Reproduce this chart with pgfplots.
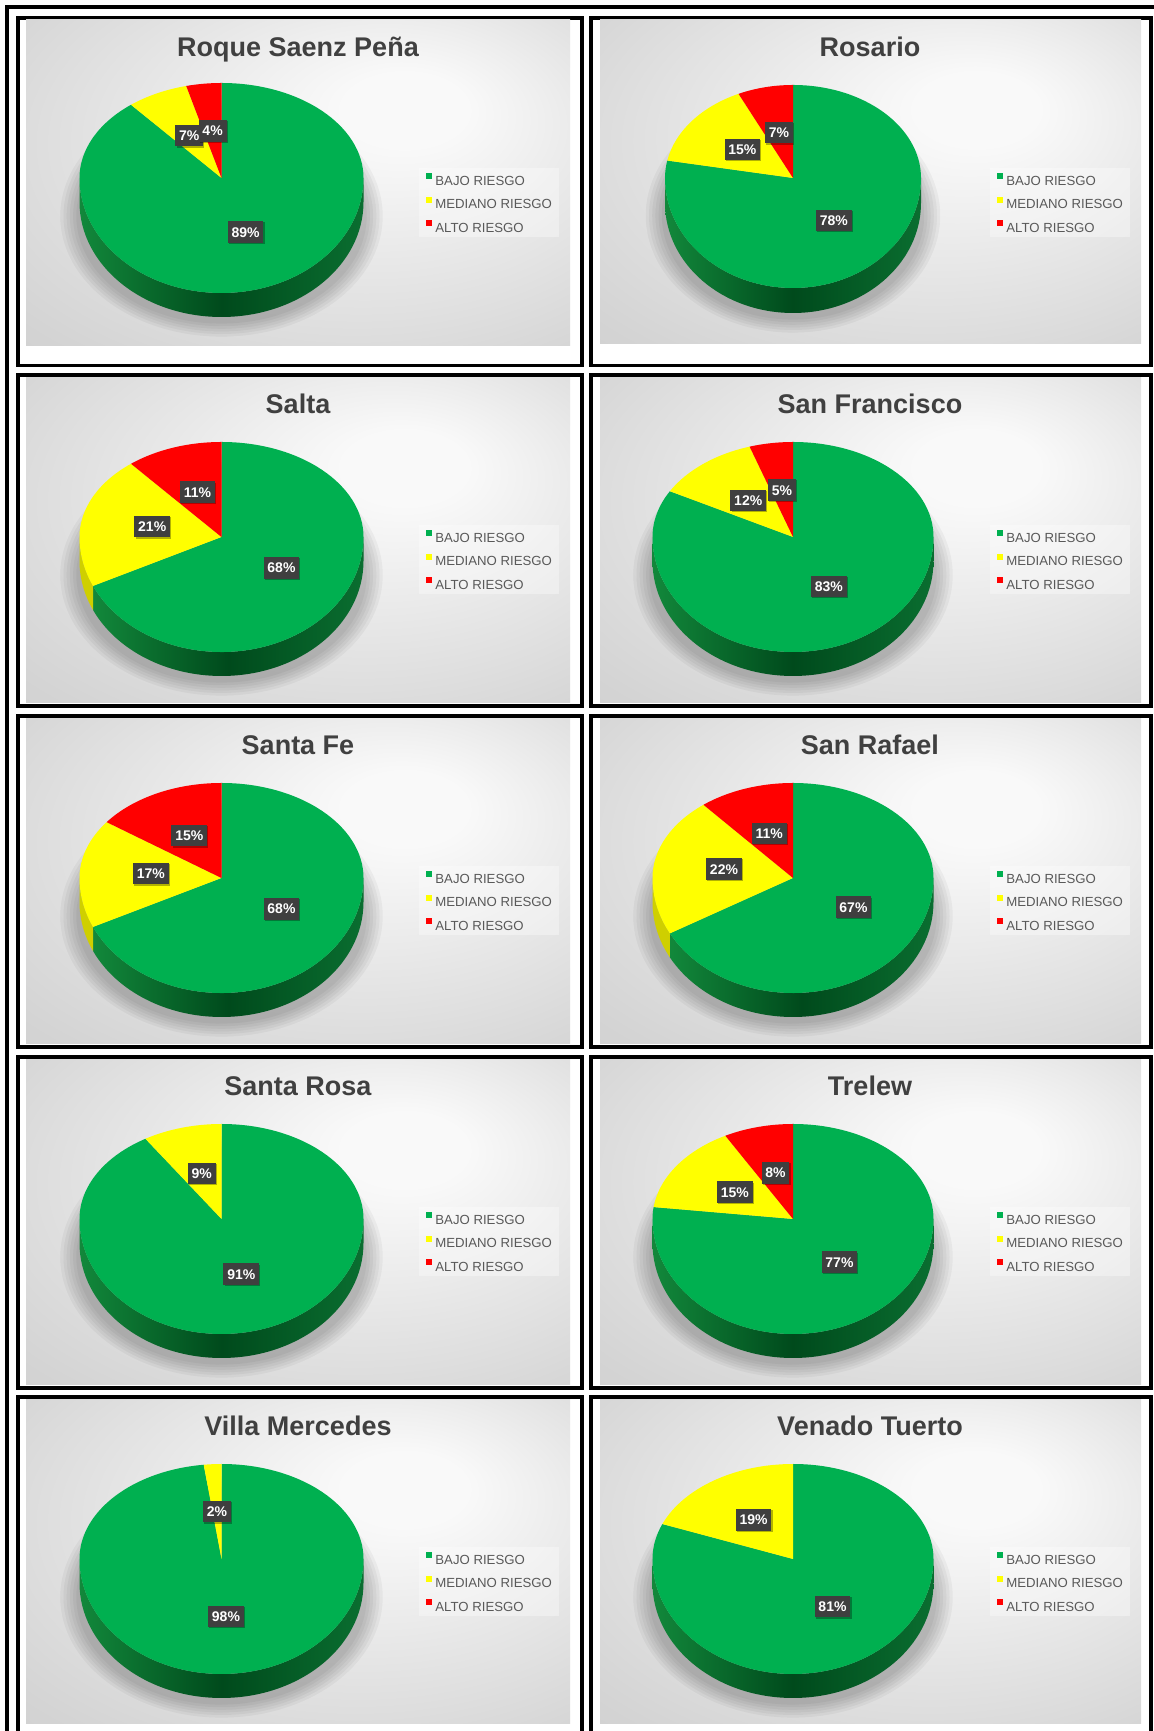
\documentclass[border=0pt]{standalone}
\usepackage{fontspec}
\setmainfont{Liberation Sans}
\usepackage{pgfplots}
\usepackage{pgfplotstable}
\pgfplotsset{compat=1.18}
\usetikzlibrary{shadows}

\definecolor{cG}{HTML}{00B050}
\definecolor{cY}{HTML}{FFFF00}
\definecolor{cR}{HTML}{FF0000}
\definecolor{sgL}{HTML}{12883B}
\definecolor{sgM}{HTML}{004A1C}
\definecolor{sgR}{HTML}{0A6E30}
\definecolor{sY}{HTML}{CFCF00}
\definecolor{sR}{HTML}{B00000}
\definecolor{ttl}{HTML}{404040}
\definecolor{lblgray}{HTML}{3F3F3F}
\definecolor{legtext}{HTML}{595959}
\definecolor{bgA}{gray}{0.975}
\definecolor{bgB}{gray}{0.91}
\definecolor{bgC}{gray}{0.83}
\definecolor{bgD}{gray}{0.78}
\pgfdeclareradialshading{panelbg}{\pgfpoint{11bp}{12.5bp}}{color(0bp)=(bgA); color(6bp)=(bgA); color(20bp)=(bgB); color(38bp)=(bgC); color(56bp)=(bgD)}

% percentages: BAJO / MEDIANO / ALTO RIESGO
\pgfplotstableread{
id bajo mediano alto
0 89 7 4
1 78 15 7
2 68 21 11
3 83 12 5
4 68 17 15
5 67 22 11
6 91 9 0
7 77 15 8
8 98 2 0
9 81 19 0
}\riskdata

\pgfplotsset{sqleg/.style={legend image code/.code={\fill[##1, fill opacity=1] (0pt,0.7pt) rectangle (3pt,3.7pt);}}}
\tikzset{lbl/.style={fill=lblgray, text=white, font=\bfseries\fontsize{7}{8}\selectfont,
  inner xsep=1.9pt, inner ysep=0pt, minimum height=10.8pt, text height=5pt, text depth=0pt,
  drop shadow={shadow xshift=0.6pt, shadow yshift=-0.6pt, opacity=0.3, fill=black}}}

\newcommand\topslice[3]{%
  \pgfmathsetmacro\tS{#2}\pgfmathsetmacro\tE{#3}%
  \ifdim\tE pt>\tS pt
  \pgfmathsetmacro\tA{max(\tS,min(\tE,-180))}%
  \pgfmathsetmacro\tB{max(\tA,min(\tE,0))}%
  \pgfmathsetmacro\tR{sin(\tS)>=0 ? \rup : \rlp}%
  \edef\tmpcmd{\noexpand\fill[#1] (axis cs:\Ax,\ApY) -- ++(\tS:\rxp pt and \tR pt)
    arc[start angle=\tS, end angle=\tA, x radius=\rxp pt, y radius=\rup pt]
    arc[start angle=\tA, end angle=\tB, x radius=\rxp pt, y radius=\rlp pt]
    arc[start angle=\tB, end angle=\tE, x radius=\rxp pt, y radius=\rup pt] -- cycle;}%
  \tmpcmd
  \fi}
\newcommand\sideslice[3]{%
  \pgfmathsetmacro\tLo{max(#2,-180)}%
  \pgfmathsetmacro\tHi{min(#3,0)}%
  \ifdim\tHi pt>\tLo pt
  \edef\tmpcmd{\noexpand\path[#1] (axis cs:\Ax,\ApY) ++(\tLo:\rxp pt and \rlp pt)
    arc[start angle=\tLo, end angle=\tHi, x radius=\rxp pt, y radius=\rlp pt]
    -- ++(0pt,-\thp pt)
    arc[start angle=\tHi, end angle=\tLo, x radius=\rxp pt, y radius=\rlp pt] -- cycle;}%
  \tmpcmd
  \fi}
\newcommand\slicelabel[3]{%
  \ifdim#1pt>0pt
  \pgfmathsetmacro\tM{(#2+#3)/2}%
  \pgfmathsetmacro\tRM{sin(\tM)>=0 ? \rup/2 : \rlp/2}%
  \pgfmathsetmacro\tRX{\rxp/2}%
  \edef\tmpcmd{\noexpand\path (axis cs:\Ax,\ApY) ++(\tM:\tRX pt and \tRM pt) node[lbl] {#1\noexpand\%};}%
  \tmpcmd
  \fi}
\newcommand\shadowring[1]{%
  \pgfmathsetmacro\sx{\rxp+1.6*#1}%
  \pgfmathsetmacro\sy{(\rup+\rlp)/2+1.3*#1}%
  \pgfmathsetmacro\sd{(\rlp-\rup)/2+\thp+2}%
  \edef\tmpcmd{\noexpand\fill[black,opacity=0.04] (axis cs:\Ax,\ApY) ++(0pt,-\sd pt) ellipse[x radius=\sx pt, y radius=\sy pt];}%
  \tmpcmd}

\newcommand\colL{\def\Fx{18}\def\Fw{564}\def\Gx{8}\def\Gw{544}\def\Ax{203.5}\def\Rx{142}\def\Tx{280}\def\Lx{401}\def\Ru{95}\def\Rl{115}\def\Th{24}}
\newcommand\colR{\def\Fx{591}\def\Fw{560}\def\Gx{9}\def\Gw{541}\def\Ax{202}\def\Rx{140.5}\def\Tx{279}\def\Lx{399}\def\Ru{95}\def\Rl{115}\def\Th{24}}
\newcommand\rowset[5]{\def\Fy{#1}\def\Fh{#2}\def\Gy{#3}\def\Gh{#4}\def\Ay{#5}}

\newcommand\drawpanel[2]{%
  \pgfplotstablegetelem{#1}{bajo}\of\riskdata\let\vG\pgfplotsretval
  \pgfplotstablegetelem{#1}{mediano}\of\riskdata\let\vY\pgfplotsretval
  \pgfplotstablegetelem{#1}{alto}\of\riskdata\let\vR\pgfplotsretval
  \pgfmathsetmacro\angB{90-3.6*\vG}%
  \pgfmathsetmacro\angC{90-3.6*(\vG+\vY)}%
  \pgfmathsetmacro\atx{\Fx*0.5}%
  \pgfmathsetmacro\aty{(1731-\Fy)*0.5}%
  \pgfmathsetmacro\ApY{\Fh-\Ay}%
  \pgfmathsetmacro\rxp{\Rx*0.5}\pgfmathsetmacro\rup{\Ru*0.5}%
  \pgfmathsetmacro\rlp{\Rl*0.5}\pgfmathsetmacro\thp{\Th*0.5}%
  \pgfmathsetmacro\legx{\Lx/\Fw}\pgfmathsetmacro\legy{1-150/\Fh}%
  \pgfmathsetmacro\gyA{\Fh-\Gy-\Gh}\pgfmathsetmacro\gyB{\Fh-\Gy}\pgfmathsetmacro\gxB{\Gx+\Gw}%
  \pgfmathsetmacro\tty{\Fh-39}%
  \begin{axis}[at={(\atx pt,\aty pt)}, anchor=north west, x=0.5pt, y=0.5pt,
    xmin=0, xmax=\Fw, ymin=0, ymax=\Fh, hide axis, clip=false, sqleg,
    legend cell align=left,
    legend style={at={(\legx,\legy)}, anchor=north west, draw=none,
      fill=white, fill opacity=0.35, text opacity=1,
      font=\fontsize{6.6}{7}\selectfont,
      inner xsep=3.5pt, inner ysep=2.5pt, row sep=5.6pt, column sep=1.5pt,
      nodes={inner sep=0pt, text height=4.8pt, text depth=0pt, text=legtext}}]
    \draw[line width=1.8pt] (axis cs:0,0) rectangle (axis cs:\Fw,\Fh);
    \shade[shading=panelbg] (axis cs:\Gx,\gyA) rectangle (axis cs:\gxB,\gyB);
    \node[anchor=base, font=\bfseries\fontsize{13.5}{15}\selectfont, text=ttl] at (axis cs:\Tx,\tty) {#2};
    \shadowring{6}\shadowring{5}\shadowring{4}\shadowring{3}\shadowring{2}\shadowring{1}%
    \sideslice{left color=sgL,right color=sgR,middle color=sgM}{\angB}{90}%
    \sideslice{fill=sY}{\angC}{\angB}%
    \sideslice{fill=sR}{-270}{\angC}%
    \topslice{cG}{\angB}{90}%
    \topslice{cY}{\angC}{\angB}%
    \topslice{cR}{-270}{\angC}%
    \slicelabel{\vG}{\angB}{90}%
    \slicelabel{\vY}{\angC}{\angB}%
    \slicelabel{\vR}{-270}{\angC}%
    \addlegendimage{fill=cG,draw=none}\addlegendentry{BAJO RIESGO}
    \addlegendimage{fill=cY,draw=none}\addlegendentry{MEDIANO RIESGO}
    \addlegendimage{fill=cR,draw=none}\addlegendentry{ALTO RIESGO}
  \end{axis}}

\begin{document}
\begin{tikzpicture}
\useasboundingbox (0,0) rectangle (577pt,865.5pt);
\fill[white] (0,0) rectangle (577pt,865.5pt);
\draw[line width=2pt] (3.5pt,0pt) -- (3.5pt,862pt) -- (577pt,862pt);
\colL\rowset{18}{347.5}{2}{326}{160}\drawpanel{0}{Roque Saenz Peña}
\colR\rowset{18}{347.5}{2}{324}{160}\def\Rx{128}\def\Ru{93}\def\Rl{110}\def\Th{25}\drawpanel{1}{Rosario}
\colL\rowset{375}{331}{3}{325}{162}\drawpanel{2}{Salta}
\colR\rowset{375}{331}{3}{325}{162}\drawpanel{3}{San Francisco}
\colL\rowset{716}{331}{3}{325}{162}\drawpanel{4}{Santa Fe}
\colR\rowset{716}{331}{3}{325}{162}\drawpanel{5}{San Rafael}
\colL\rowset{1057}{331}{3}{325}{162}\drawpanel{6}{Santa Rosa}
\colR\rowset{1057}{331}{3}{325}{162}\drawpanel{7}{Trelew}
\colL\rowset{1397}{337}{3}{324}{162}\drawpanel{8}{Villa Mercedes}
\colR\rowset{1397}{337}{3}{324}{162}\drawpanel{9}{Venado Tuerto}
\end{tikzpicture}
\end{document}
